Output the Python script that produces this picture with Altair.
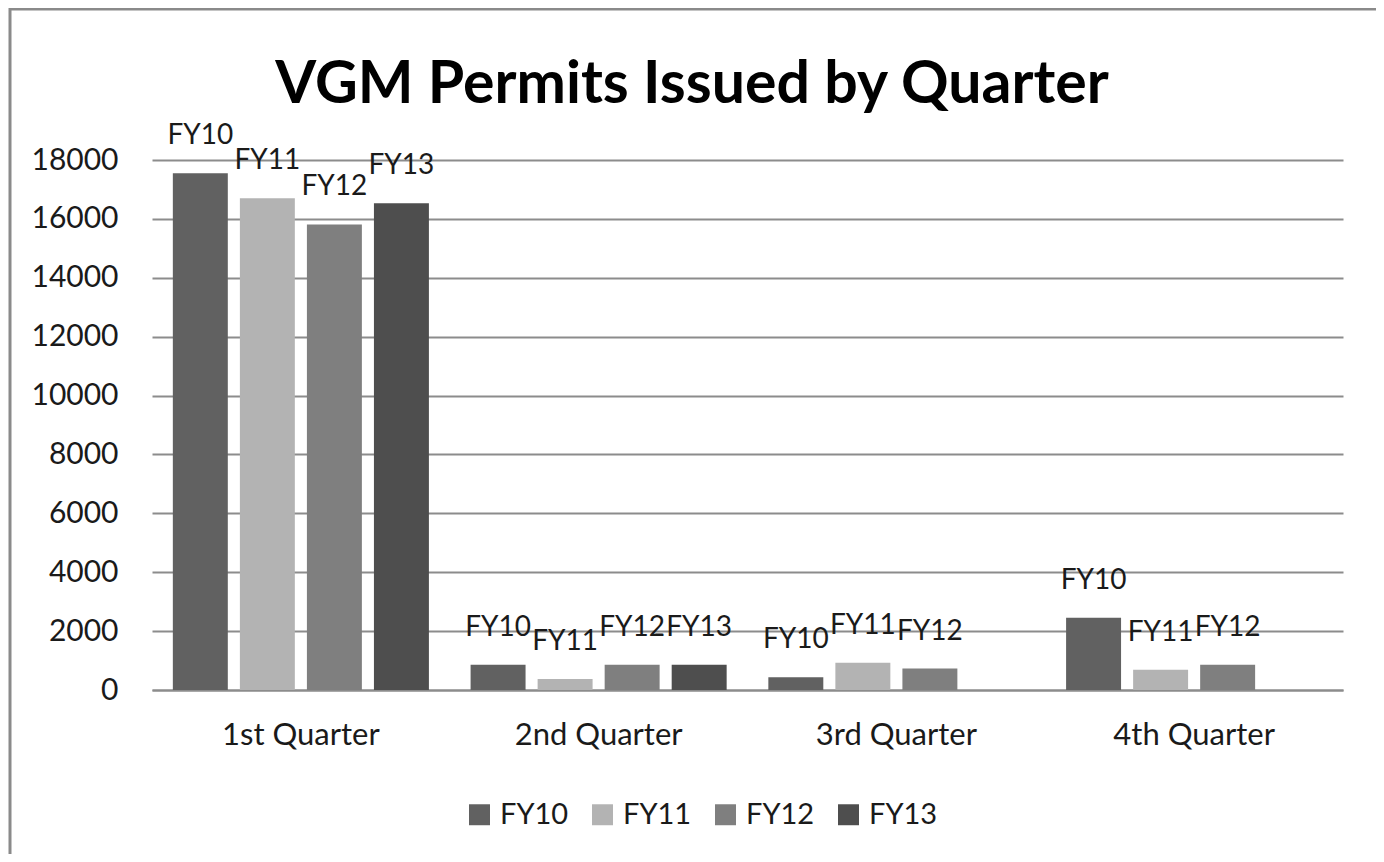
import altair as alt
import pandas as pd

quarters = ["1st Quarter", "2nd Quarter", "3rd Quarter", "4th Quarter"]
series = ["FY10", "FY11", "FY12", "FY13"]
fy10 = [17550, 860, 435, 2455]
fy11 = [16700, 370, 925, 690]
fy12 = [15810, 860, 730, 860]
fy13 = [16530, 860, None, None]
colors = ["#616161", "#b3b3b3", "#7f7f7f", "#4e4e4e"]
title_text = ["VGM Permits Issued by Quarter"]

rows = []
for s, vals in zip(series, [fy10, fy11, fy12, fy13]):
    for q, v in zip(quarters, vals):
        if v is not None:
            rows.append({"Quarter": q, "Series": s, "Value": v})
df = pd.DataFrame(rows)

FONT = "Lato"

base = alt.Chart(df).encode(
    x=alt.X("Quarter:N", sort=quarters, title=None,
            scale=alt.Scale(paddingInner=0.14, paddingOuter=0.07),
            axis=alt.Axis(labelAngle=0, ticks=False, domainColor="#8c8c8c", domainWidth=2,
                          labelFontSize=31, labelFont=FONT, labelColor="#1a1a1a",
                          labelPadding=30)),
    xOffset=alt.XOffset("Series:N", sort=series,
                        scale=alt.Scale(paddingInner=0.18, paddingOuter=0)),
)

bars = base.mark_bar().encode(
    y=alt.Y("Value:Q", title=None,
            scale=alt.Scale(domain=[0, 18000], nice=False),
            axis=alt.Axis(values=list(range(0, 18001, 2000)), format="d", ticks=False, domain=False,
                          gridColor="#8c8c8c", gridWidth=2, labelFontSize=30, labelFont=FONT,
                          labelColor="#1a1a1a", labelPadding=34)),
    color=alt.Color("Series:N", sort=series,
                    scale=alt.Scale(domain=series, range=colors),
                    legend=alt.Legend(title=None, orient="none", direction="horizontal",
                                      legendX=313, legendY=640, symbolType="square",
                                      symbolSize=440, symbolStrokeWidth=0, labelFontSize=29,
                                      labelFont=FONT, labelColor="#1a1a1a", columnPadding=19,
                                      labelOffset=6, gridAlign="all", columns=4)),
)

labels = base.mark_text(baseline="middle", dy=-37, fontSize=28, font=FONT, color="#1a1a1a").encode(
    y=alt.Y("Value:Q"),
    text="Series:N",
)

border = alt.Chart(pd.DataFrame({"a": [0]})).mark_rect(
    fill=None, stroke="#8a8a8a", strokeWidth=3
).encode(
    x=alt.value(-142), x2=alt.value(1226), y=alt.value(-151), y2=alt.value(720)
)

title = alt.Chart(pd.DataFrame({"t": title_text})).mark_text(
    fontSize=59, font=FONT, fontWeight="bold", color="#000000",
    align="center", baseline="alphabetic"
).encode(
    x=alt.value(540), y=alt.value(-57), text="t:N"
)

chart = alt.layer(border, bars, labels, title).properties(
    width=1191, height=530,
    autosize=alt.AutoSizeParams(type="none"),
    padding={"left": 144, "top": 152, "right": 33, "bottom": 164},
).configure_view(stroke=None)

chart.save("out.html", embed_options={"renderer": "svg", "actions": False})
